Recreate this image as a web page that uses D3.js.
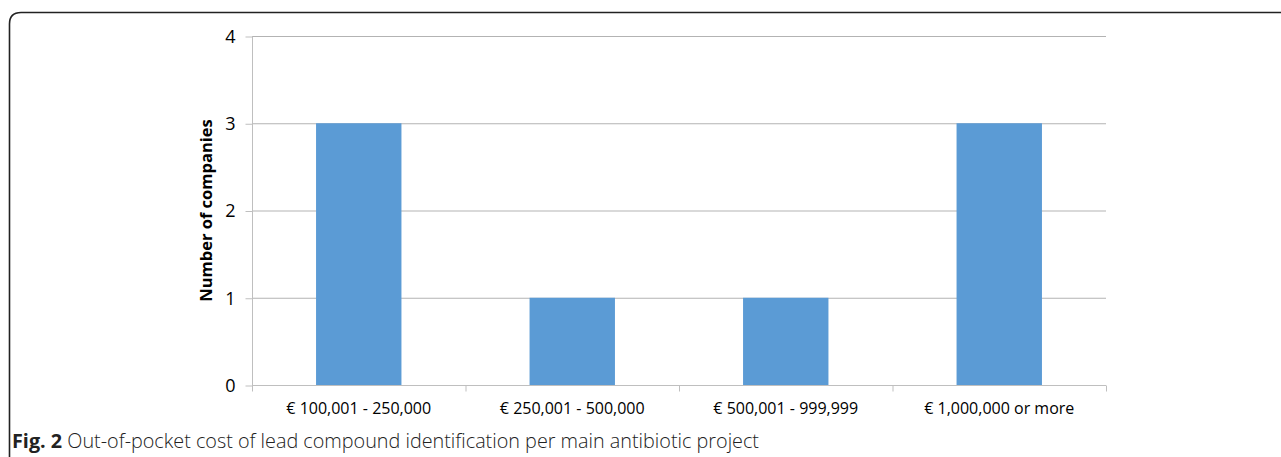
<!DOCTYPE html>
<html><head><meta charset="utf-8">
<script src="https://cdn.jsdelivr.net/npm/d3@7"></script>
<style>body{margin:0;background:#fff}svg{display:block}</style>
</head><body>
<script>
const categories = ["€ 100,001 - 250,000", "€ 250,001 - 500,000", "€ 500,001 - 999,999", "€ 1,000,000 or more"];
const values = [3, 1, 1, 3];
const yTicks = [0, 1, 2, 3, 4];
const yTitle = "Number of companies";
const captionBold = "Fig. 2";
const captionText = " Out-of-pocket cost of lead compound identification per main antibiotic project";

(function () {
const W = 1281, H = 457;
const svg = d3.select("body").append("svg").attr("width", W).attr("height", H);
const font = "'Open Sans', 'Noto Sans', sans-serif";

// frame
svg.append("path")
  .attr("d", "M9.5,470 L9.5,24 Q9.5,12.5 21,12.5 L1300,12.5")
  .attr("fill", "none").attr("stroke", "#222").attr("stroke-width", 1.6);

const pl = 252, pr = 1106, pt = 36, pb = 385;
const x = d3.scaleBand().domain(categories).range([pl, pr]).paddingInner(0.6).paddingOuter(0.3);
const xb = d3.scaleBand().domain(categories).range([pl, pr]);
const y = d3.scaleLinear().domain([0, 4]).range([pb, pt]);

// gridlines
svg.append("g").selectAll("line").data(yTicks.filter(d => d > 0)).join("line")
  .attr("x1", pl).attr("x2", pr)
  .attr("y1", d => y(d) + 0.5).attr("y2", d => y(d) + 0.5)
  .attr("stroke", "#b3b3b3").attr("stroke-width", 1.2);

// bars
svg.append("g").selectAll("rect").data(values).join("rect")
  .attr("x", (d, i) => x(categories[i]))
  .attr("width", x.bandwidth())
  .attr("y", d => y(d))
  .attr("height", d => y(0) - y(d))
  .attr("fill", "#5b9bd5");

// y axis
const yAxis = d3.axisLeft(y).tickValues(yTicks).tickSize(7).tickPadding(10).tickFormat(d3.format("d"));
const gy = svg.append("g").attr("transform", `translate(${pl + 0.5},0.5)`).call(yAxis);
gy.select(".domain").attr("stroke", "#bfbfbf").attr("d", `M0,${pt}V${pb}`);
gy.selectAll(".tick line").attr("stroke", "#bfbfbf");
gy.selectAll("text").attr("font-family", font).attr("font-size", 18).attr("fill", "#000");

// x axis
const gx = svg.append("g").attr("transform", `translate(0,${pb + 0.5})`);
gx.append("line").attr("x1", pl).attr("x2", pr).attr("stroke", "#bfbfbf").attr("stroke-width", 1.2);
const bounds = categories.map(c => xb(c)).concat([pr]);
gx.selectAll("line.tk").data(bounds).join("line").attr("class", "tk")
  .attr("x1", d => d + 0.5).attr("x2", d => d + 0.5).attr("y1", 0).attr("y2", 6)
  .attr("stroke", "#bfbfbf");
gx.selectAll("text").data(categories).join("text")
  .attr("x", d => xb(d) + xb.bandwidth() / 2).attr("y", 28)
  .attr("text-anchor", "middle").attr("font-family", font).attr("font-size", 16).attr("fill", "#000")
  .text(d => d);

// y title
svg.append("text").attr("transform", `translate(212,${(pt + pb) / 2}) rotate(-90)`)
  .attr("text-anchor", "middle").attr("font-family", font).attr("font-size", 16.5).attr("font-weight", "bold")
  .text(yTitle);

// caption
const cap = svg.append("text").attr("x", 12).attr("y", 448).attr("font-family", font).attr("font-size", 19.8).attr("fill", "#222");
cap.append("tspan").attr("font-weight", "bold").text(captionBold);
cap.append("tspan").attr("font-weight", 300).text(captionText);
})();
</script>
</body></html>
